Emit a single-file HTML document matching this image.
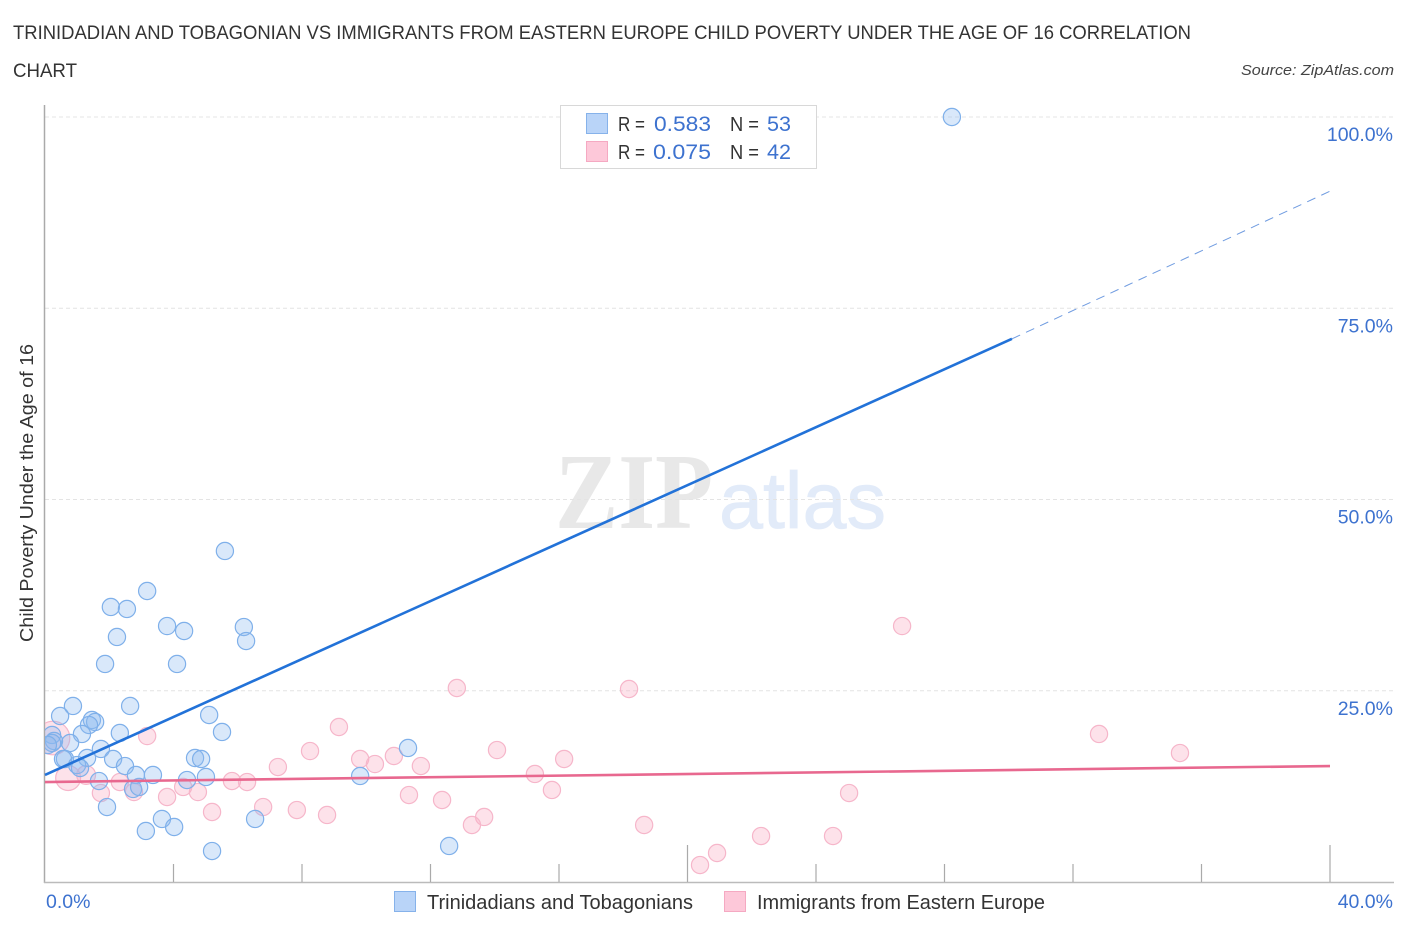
<!DOCTYPE html>
<html>
<head>
<meta charset="utf-8">
<title>Correlation chart</title>
<style>
html,body{margin:0;padding:0;background:#fff;width:1406px;height:930px;overflow:hidden}
svg{display:block;font-family:"Liberation Sans",sans-serif}
</style>
</head>
<body>
<svg id="chart" width="1406" height="930" viewBox="0 0 1406 930" xmlns="http://www.w3.org/2000/svg">
  <defs><clipPath id="plot-clip"><rect x="45" y="100" width="1350" height="782"/></clipPath></defs>
  <rect width="1406" height="930" fill="#fff"/>
  <text x="13" y="39" font-size="19" fill="#333" textLength="1178" lengthAdjust="spacingAndGlyphs">TRINIDADIAN AND TOBAGONIAN VS IMMIGRANTS FROM EASTERN EUROPE CHILD POVERTY UNDER THE AGE OF 16 CORRELATION</text>
  <text x="13" y="77" font-size="19" fill="#333" textLength="64" lengthAdjust="spacingAndGlyphs">CHART</text>
  <text x="1241" y="75" font-size="15" font-style="italic" fill="#444" textLength="153" lengthAdjust="spacingAndGlyphs">Source: ZipAtlas.com</text>
  <text x="555" y="528" font-family="'Liberation Serif',serif" font-weight="bold" font-size="108" fill="#e8e8e8" textLength="158" lengthAdjust="spacingAndGlyphs">ZIP</text>
  <text x="719" y="528" font-size="80" fill="#e2ebf9" stroke="#e2ebf9" stroke-width="0.8" textLength="167" lengthAdjust="spacingAndGlyphs">atlas</text>
  <g id="grid"></g>
  <g id="axes"></g>
  <g id="points" clip-path="url(#plot-clip)"></g>
  <g id="trends"></g>
  <g id="labels"></g>
  <text transform="translate(33,642) rotate(-90)" font-size="18" fill="#333" textLength="298" lengthAdjust="spacingAndGlyphs">Child Poverty Under the Age of 16</text>

  <g>
    <rect x="560.5" y="105.5" width="256" height="63" fill="#fff" stroke="#d8d8d8" stroke-width="1"/>
    <rect x="586.5" y="113.5" width="21" height="20" fill="#b9d4f8" stroke="#86b2ea"/>
    <rect x="586.5" y="141.5" width="21" height="20" fill="#fdc8d9" stroke="#f5a9c2"/>
    <text x="618" y="131" font-size="20" fill="#333" textLength="27" lengthAdjust="spacingAndGlyphs">R =</text>
    <text x="654" y="131" font-size="21" fill="#3d72cf" textLength="57" lengthAdjust="spacingAndGlyphs">0.583</text>
    <text x="730" y="131" font-size="20" fill="#333" textLength="29" lengthAdjust="spacingAndGlyphs">N =</text>
    <text x="767" y="131" font-size="21" fill="#3d72cf" textLength="24" lengthAdjust="spacingAndGlyphs">53</text>
    <text x="618" y="159" font-size="20" fill="#333" textLength="27" lengthAdjust="spacingAndGlyphs">R =</text>
    <text x="653" y="159" font-size="21" fill="#3d72cf" textLength="58" lengthAdjust="spacingAndGlyphs">0.075</text>
    <text x="730" y="159" font-size="20" fill="#333" textLength="29" lengthAdjust="spacingAndGlyphs">N =</text>
    <text x="767" y="159" font-size="21" fill="#3d72cf" textLength="24" lengthAdjust="spacingAndGlyphs">42</text>
  </g>

  <g>
    <rect x="394.5" y="891.5" width="21" height="20" fill="#b9d4f8" stroke="#86b2ea"/>
    <text x="427" y="909" font-size="20" fill="#333" textLength="266" lengthAdjust="spacingAndGlyphs">Trinidadians and Tobagonians</text>
    <rect x="724.5" y="891.5" width="21" height="20" fill="#fdc8d9" stroke="#f5a9c2"/>
    <text x="757" y="909" font-size="20" fill="#333" textLength="288" lengthAdjust="spacingAndGlyphs">Immigrants from Eastern Europe</text>
  </g>
</svg>
<script>
var yTicks = [25, 50, 75, 100];
var yTickLabels = ['25.0%', '50.0%', '75.0%', '100.0%'];
var xTicks = [0, 4, 8, 12, 16, 20, 24, 28, 32, 36, 40];
var xMajorTicks = [20, 40];
var xEndTicks = [0, 40];
var xEndLabels = ['0.0%', '40.0%'];

var blueX = [28.23,5.60,3.18,2.05,2.55,3.80,4.33,2.24,6.19,6.26,1.87,4.11,0.87,0.47,2.65,5.11,1.46,1.56,1.37,2.33,5.51,1.15,0.78,1.74,1.31,0.62,0.56,2.12,2.49,1.00,1.09,2.83,3.36,4.67,4.86,4.42,5.01,1.68,2.74,2.93,1.93,3.64,4.02,3.14,6.54,5.20,11.30,9.81,12.58,0.22,0.28,0.22,0.09];
var blueY = [100,43.27,38.04,35.95,35.69,33.46,32.81,32.03,33.33,31.50,28.50,28.50,23.01,21.70,23.01,21.83,21.18,20.92,20.52,19.48,19.61,19.35,18.17,17.39,16.21,16.08,16.08,16.08,15.16,15.29,14.90,13.99,13.99,16.21,16.08,13.33,13.73,13.20,12.16,12.42,9.80,8.24,7.19,6.67,8.24,4.05,17.52,13.86,4.71,19.22,18.43,18.17,17.91];

var pinkX = [26.68,12.82,18.18,32.81,35.33,9.15,3.18,8.25,14.07,9.81,10.27,10.86,11.70,16.16,7.25,15.25,5.82,6.29,2.33,15.78,25.03,11.33,12.36,4.30,4.76,1.74,2.77,3.80,6.79,7.84,8.78,5.20,13.67,13.29,18.65,22.29,24.53,20.92,20.39,0.25,0.72,1.28];
var pinkY = [33.46,25.36,25.23,19.35,16.86,20.26,19.08,17.12,17.25,16.08,15.42,16.47,15.16,16.08,15.03,14.12,13.20,13.07,13.07,12.03,11.63,11.37,10.72,12.42,11.76,11.63,11.76,11.11,9.80,9.41,8.76,9.15,8.50,7.45,7.45,6.01,6.01,3.79,2.22,18.82,13.59,13.99];
var pinkWeight = [1,1,1,1,1,1,1,1,1,1,1,1,1,1,1,1,1,1,1,1,1,1,1,1,1,1,1,1,1,1,1,1,1,1,1,1,1,1,1,3.8,2.1,1.2];

var blueTrendX = [0, 30.1, 40];
var blueTrendY = [14.0, 71.0, 90.3];
var pinkTrendX = [0, 40];
var pinkTrendY = [13.07, 15.16];

var NS = 'http://www.w3.org/2000/svg';
function xScale(v) { return 45 + v * 32.125; }
function yScale(v) { return 882 - v * 7.65; }
function make(tag, parent) {
  var el = document.createElementNS(NS, tag);
  document.getElementById(parent).appendChild(el);
  return el;
}
function setAll(el, o) { for (var k in o) el.setAttribute(k, o[k]); }

yTicks.forEach(function (v) {
  var g = make('line', 'grid');
  
  
  setAll(g, { x1: 45, x2: 1394, y1: yScale(v), y2: yScale(v), stroke: '#e4e4e4', 'stroke-width': 1, 'stroke-dasharray': '4 3' });
});

var yAxis = make('line', 'axes');


setAll(yAxis, { x1: 44.5, x2: 44.5, y1: 105, y2: 883, stroke: '#aaa', 'stroke-width': 1.5 });

var xAxis = make('line', 'axes');


setAll(xAxis, { x1: 44, x2: 1394, y1: 882.5, y2: 882.5, stroke: '#bbb', 'stroke-width': 1.5 });

xTicks.forEach(function (v) {
  if (v === 0) return;
  var t = make('line', 'axes');
  
  
  var top = xMajorTicks.indexOf(v) >= 0 ? 845 : 864;
  setAll(t, { x1: xScale(v), x2: xScale(v), y1: top, y2: 882, stroke: '#aaa', 'stroke-width': 1.2 });
});

pinkX.forEach(function (v, i) {
  var c = make('circle', 'points');
  
  
  setAll(c, { cx: xScale(v), cy: yScale(pinkY[i]), r: 8.6 * Math.sqrt(pinkWeight[i]), fill: 'rgba(250,175,198,0.36)', stroke: '#f6b6ca', 'stroke-width': 1.2 });
});

blueX.forEach(function (v, i) {
  var c = make('circle', 'points');
  
  
  setAll(c, { cx: xScale(v), cy: yScale(blueY[i]), r: 8.6, fill: 'rgba(140,185,240,0.33)', stroke: '#7fb0ea', 'stroke-width': 1.2 });
});

var blueSolid = make('line', 'trends');


setAll(blueSolid, { x1: xScale(blueTrendX[0]), y1: yScale(blueTrendY[0]), x2: xScale(blueTrendX[1]), y2: yScale(blueTrendY[1]), stroke: '#2272d8', 'stroke-width': 2.6 });

var blueDash = make('line', 'trends');


setAll(blueDash, { x1: xScale(blueTrendX[1]), y1: yScale(blueTrendY[1]), x2: xScale(blueTrendX[2]), y2: yScale(blueTrendY[2]), stroke: '#6f9be0', 'stroke-width': 1, 'stroke-dasharray': '9 6.5' });

var pinkLine = make('line', 'trends');


setAll(pinkLine, { x1: xScale(pinkTrendX[0]), y1: yScale(pinkTrendY[0]), x2: xScale(pinkTrendX[1]), y2: yScale(pinkTrendY[1]), stroke: '#e8688f', 'stroke-width': 2.6 });

yTicks.forEach(function (v, i) {
  var t = make('text', 'labels');
  
  
  setAll(t, { x: 1393, y: yScale(v) + 24, 'text-anchor': 'end', 'font-size': 19.5, fill: '#3d72cf' });
  t.textContent = yTickLabels[i];
});

xEndTicks.forEach(function (v, i) {
  var t = make('text', 'labels');
  
  
  setAll(t, { x: i === 0 ? xScale(v) + 1 : 1393, y: 908, 'text-anchor': i === 0 ? 'start' : 'end', 'font-size': 19.5, fill: '#3d72cf' });
  t.textContent = xEndLabels[i];
});
</script>
</body>
</html>
